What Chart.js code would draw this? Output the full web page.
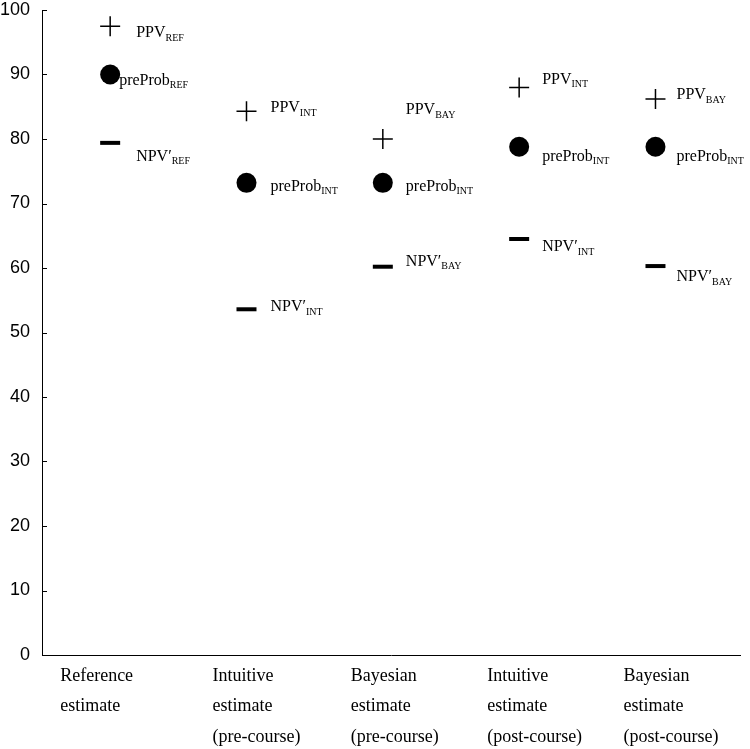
<!DOCTYPE html>
<html>
<head>
<meta charset="utf-8">
<script src="https://cdn.jsdelivr.net/npm/chart.js@4/dist/chart.umd.min.js"></script>
<style>
  body { margin: 0; background: #fff; }
</style>
</head>
<body>
<canvas id="chart" width="750" height="749"></canvas>
<script>
// categories on the x axis, one entry per line of text
const categories = [
  ['Reference', 'estimate'],
  ['Intuitive', 'estimate', '(pre-course)'],
  ['Bayesian', 'estimate', '(pre-course)'],
  ['Intuitive', 'estimate', '(post-course)'],
  ['Bayesian', 'estimate', '(post-course)']
]
const yTicks = [0, 10, 20, 30, 40, 50, 60, 70, 80, 90, 100]

// values (%)
const ppv = [97.5, 84.3, 80.0, 88.0, 86.2]
const preProb = [90.0, 73.2, 73.2, 78.8, 78.8]
const npv = [79.4, 53.6, 60.2, 64.5, 60.3]

// point labels: [main text, subscript]
const ppvNames = [['PPV', 'REF'], ['PPV', 'INT'], ['PPV', 'BAY'], ['PPV', 'INT'], ['PPV', 'BAY']]
const preProbNames = [['preProb', 'REF'], ['preProb', 'INT'], ['preProb', 'INT'], ['preProb', 'INT'], ['preProb', 'INT']]
const npvNames = [['NPV\u2032', 'REF'], ['NPV\u2032', 'INT'], ['NPV\u2032', 'BAY'], ['NPV\u2032', 'INT'], ['NPV\u2032', 'BAY']]

// label placement relative to the marker (px)
const ppvOffsets = [[26, 7], [24, -3], [23, -29], [23, -8], [21, -4]]
const preProbOffsets = [[9, 6], [24, 4], [23, 4], [23, 10], [21, 10]]
const npvOffsets = [[26, 14], [24, -2], [23, -5], [23, 8], [21, 11]]
const categoryOffsets = [-50, -34, -32, -32, -32]

const toPoints = (values) => values.map((v, i) => ({ x: i + 0.5, y: v }))

const pointLabels = [
  { names: ppvNames, offsets: ppvOffsets },
  { names: preProbNames, offsets: preProbOffsets },
  { names: npvNames, offsets: npvOffsets }
]

const annotatePlugin = {
  id: 'annotate',
  afterDraw(chart) {
    const { ctx, scales: { x, y } } = chart
    ctx.save()
    // inward ticks on the y axis
    ctx.strokeStyle = '#000'
    ctx.lineWidth = 1
    yTicks.forEach((t) => {
      const py = Math.round(y.getPixelForValue(t)) + 0.5
      ctx.beginPath()
      ctx.moveTo(x.left, py)
      ctx.lineTo(x.left + 5, py)
      ctx.stroke()
    })
    ctx.fillStyle = '#000'
    ctx.textAlign = 'left'
    ctx.textBaseline = 'middle'
    // category labels
    ctx.font = '18px "Liberation Serif"'
    categories.forEach((lines, i) => {
      const px = x.getPixelForValue(i + 0.5) + categoryOffsets[i]
      lines.forEach((s, j) => ctx.fillText(s, px, y.bottom + 21 + j * 30.5))
    })
    // point labels with subscripts
    chart.data.datasets.forEach((ds, d) => {
      const meta = chart.getDatasetMeta(d)
      const lab = pointLabels[d]
      meta.data.forEach((el, i) => {
        const tx = el.x + lab.offsets[i][0]
        const ty = el.y + lab.offsets[i][1]
        ctx.font = '16px "Liberation Serif"'
        ctx.fillText(lab.names[i][0], tx, ty)
        const w = ctx.measureText(lab.names[i][0]).width
        ctx.font = '10px "Liberation Serif"'
        ctx.fillText(lab.names[i][1], tx + w, ty + 5)
      })
    })
    ctx.restore()
  }
}

const config = {
  type: 'scatter',
  data: {
    datasets: [
      {
        label: 'PPV',
        data: toPoints(ppv),
        pointStyle: 'cross',
        radius: 10,
        borderWidth: 1.5,
        borderColor: '#000',
        backgroundColor: '#000'
      },
      {
        label: 'preProb',
        data: toPoints(preProb),
        pointStyle: 'circle',
        radius: 10,
        borderWidth: 0,
        backgroundColor: '#000'
      },
      {
        label: 'NPV\u2032',
        data: toPoints(npv),
        pointStyle: 'line',
        radius: 10,
        borderWidth: 4,
        borderColor: '#000'
      }
    ]
  },
  options: {
    responsive: false,
    animation: false,
    layout: { autoPadding: false, padding: { top: 10, right: 10, left: 0, bottom: 0 } },
    plugins: {
      legend: { display: false },
      tooltip: { enabled: false }
    },
    scales: {
      x: {
        type: 'linear',
        min: 0,
        max: 5.12,
        ticks: { display: false },
        grid: { display: false },
        border: { display: true, color: '#000', width: 1 },
        afterFit(scale) {
          scale.height = 94
          scale.paddingLeft = 0
          scale.paddingRight = 0
        }
      },
      y: {
        min: 0,
        max: 100,
        afterBuildTicks(scale) { scale.ticks = yTicks.map((v) => ({ value: v })) },
        ticks: {
          padding: 12,
          color: '#000',
          font: { family: '"Liberation Sans"', size: 18 }
        },
        grid: { display: false, drawTicks: false },
        border: { display: true, color: '#000', width: 1 },
        afterFit(scale) {
          scale.width = 42
          scale.paddingTop = 0
          scale.paddingBottom = 0
        }
      }
    }
  },
  plugins: [annotatePlugin]
}

const myChart = new Chart(document.getElementById('chart'), config)
</script>
</body>
</html>
